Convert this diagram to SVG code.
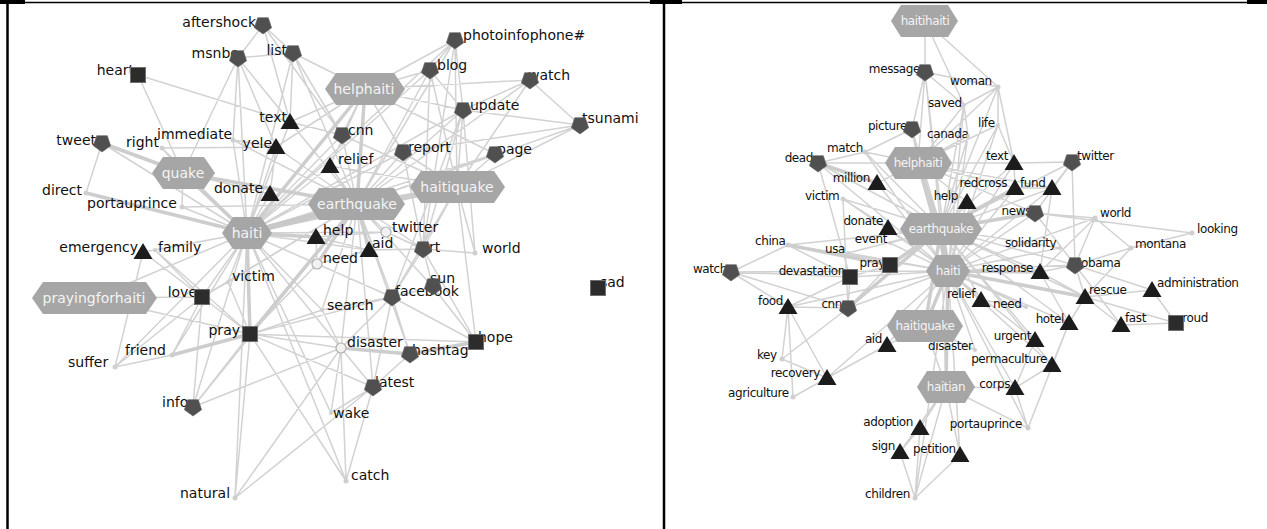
<svg xmlns="http://www.w3.org/2000/svg" xmlns:xlink="http://www.w3.org/1999/xlink" width="1267" height="529" viewBox="0 0 1267 529">
<style>
text{font-family:"DejaVu Sans","Liberation Sans",sans-serif;fill:#111}
.l{font-size:14px}
.r{font-size:12px;letter-spacing:-0.4px}
.e{text-anchor:end}
.hl{font-size:14px;fill:#f4f4f4;text-anchor:middle}
.hr{font-size:12px;letter-spacing:-0.4px;fill:#f4f4f4;text-anchor:middle}
.hex{fill:#a6a6a6}
.dot{fill:#cfcfcf}
.cir{fill:#f2f2f2;stroke:#b0b0b0;stroke-width:1.2}
.e1{fill:none;stroke:#d2d2d2;stroke-width:1.5}
.e3{fill:none;stroke:#cdcdcd;stroke-width:3.5}
.e5{fill:none;stroke:#c8c8c8;stroke-width:5.5}
</style>
<defs>
<polygon id="pt" points="0,9 -8.6,2.8 -5.3,-7.3 5.3,-7.3 8.6,2.8" fill="#505050" stroke="#5e5e5e" stroke-width="0.6"/>
<polygon id="tr" points="0,-9 -9.5,7 9.5,7" fill="#1c1c1c"/>
<rect id="sq" x="-7.5" y="-7.5" width="15" height="15" fill="#2c2c2c" stroke="#6f6f6f" stroke-width="1"/>
</defs>
<rect width="1267" height="529" fill="#fff"/>
<g id="frame" stroke="#000" fill="none">
<line x1="0" y1="2.5" x2="1267" y2="2.5" stroke-width="1.5"/>
<line x1="7.5" y1="2" x2="7.5" y2="529" stroke-width="2.5"/>
<line x1="664" y1="2" x2="664" y2="529" stroke-width="2.5"/>
<rect x="0" y="0" width="25" height="4" fill="#000" stroke="none"/>
<rect x="650" y="0" width="32" height="4" fill="#000" stroke="none"/>
<rect x="1247" y="0" width="20" height="4" fill="#000" stroke="none"/>
</g>
<g id="connectors">
<path class="e1" d="M263 25L238 58M263 25L293 53M263 25L290 122M263 25L342 135M238 58L293 53M238 58L276 147M238 58L290 122M238 58L247 233M238 58L183 173M238 58L357 204M238 58L233 140M293 53L290 122M293 53L342 135M293 53L357 204M293 53L247 233M293 53L365 89M138 75L290 122M138 75L183 173M102 143L86 193M102 143L247 233M182 207L247 233M182 207L183 173M182 207L357 204M162 148L183 173M162 148L276 147M162 148L247 233M233 140L276 147M233 140L247 233M233 140L357 204M290 122L365 89M290 122L357 204M290 122L247 233M290 122L342 135M276 147L247 233M276 147L357 204M276 147L365 89M276 147L270 194M342 135L357 204M342 135L247 233M342 135L365 89M342 135L457 187M330 166L357 204M330 166L247 233M330 166L365 89M330 166L457 187M403 152L357 204M403 152L247 233M403 152L457 187M403 152L365 89M403 152L423 249M430 70L365 89M430 70L357 204M430 70L247 233M430 70L457 187M430 70L455 40M430 70L463 110M430 70L423 249M455 40L365 89M455 40L357 204M455 40L457 187M455 40L423 249M455 40L463 110M455 40L247 233M530 80L365 89M530 80L580 125M530 80L457 187M530 80L463 110M530 80L357 204M463 110L365 89M463 110L357 204M463 110L457 187M463 110L247 233M463 110L423 249M463 110L392 297M580 125L457 187M580 125L357 204M580 125L403 152M580 125L463 110M495 154L457 187M495 154L357 204M495 154L365 89M495 154L247 233M183 173L270 194M457 187L423 249M457 187L475 253M457 187L392 297M457 187L476 342M357 204L386 232M357 204L423 249M357 204L322 310M357 204L392 297M357 204L228 282M357 204L202 297M357 204L193 407M357 204L410 354M357 204L373 387M357 204L341 348M247 233L317 264M247 233L202 297M247 233L228 282M247 233L143 252M247 233L155 250M247 233L94 298M247 233L322 310M247 233L341 348M247 233L193 407M247 233L392 297M247 233L235 498M247 233L346 481M247 233L331 413M247 233L172 355M247 233L369 250M247 233L386 232M247 233L115 367M247 233L270 194M316 237L317 264M316 237L369 250M316 237L386 232M143 252L115 367M143 252L202 297M155 250L202 297M155 250L250 334M94 298L250 334M94 298L202 297M202 297L250 334M202 297L172 355M202 297L193 407M250 334L235 498M250 334L341 348M250 334L476 342M250 334L322 310M250 334L193 407M250 334L346 481M250 334L373 387M250 334L392 297M250 334L317 264M172 355L115 367M115 367L202 297M341 348L322 310M341 348L331 413M341 348L346 481M341 348L235 498M341 348L373 387M341 348L392 297M410 354L392 297M410 354L373 387M476 342L392 297M476 342L433 287M476 342L423 249M392 297L433 287M392 297L423 249M392 297L322 310M392 297L373 387M433 287L423 249M433 287L357 204M373 387L331 413M373 387L235 498M193 407L341 348M346 481L373 387M475 253L423 249M475 253L463 110M423 249L369 250M423 249L386 232M369 250L317 264M228 282L250 334M228 282L202 297"/>
<path class="e3" d="M183 173L247 233M183 173L357 204M183 173L102 143M365 89L357 204M457 187L357 204M457 187L247 233M247 233L316 237M247 233L250 334M357 204L250 334M250 334L172 355M341 348L410 354M410 354L476 342M357 204L317 264M357 204L369 250M365 89L247 233M86 193L247 233"/>
<path class="e5" d="M247 233L357 204"/>
<path class="e1" d="M925 21L925 72M925 21L998 87M925 21L964 105M925 72L918 163M925 72L912 129M925 72L964 105M925 72L941 229M925 72L948 271M925 72L998 87M998 87L964 105M998 87L918 163M998 87L1014 163M998 87L941 229M998 87L998 125M964 105L918 163M964 105L941 229M964 105L948 271M964 105L968 136M912 129L918 163M912 129L941 229M912 129L948 271M912 129L865 152M968 136L918 163M968 136L941 229M968 136L948 271M998 125L918 163M998 125L941 229M998 125L948 271M998 125L1014 163M865 152L818 163M865 152L918 163M865 152L941 229M865 152L948 271M818 163L918 163M818 163L948 271M818 163L941 229M818 163L850 277M918 163L1014 163M918 163L877 183M918 163L1015 188M918 163L967 202M918 163L1035 213M918 163L1052 188M1014 163L1072 162M1014 163L1015 188M1014 163L941 229M1014 163L948 271M1072 162L1052 188M1072 162L1035 213M1072 162L1075 265M1072 162L941 229M877 183L941 229M877 183L948 271M1015 188L948 271M1015 188L1052 188M1052 188L941 229M1052 188L948 271M1052 188L1040 272M843 199L941 229M843 199L948 271M843 199L888 228M843 199L848 308M967 202L941 229M967 202L948 271M1035 213L948 271M1035 213L1095 218M1035 213L1192 233M1035 213L1075 265M1095 218L1131 248M1095 218L1075 265M1095 218L1040 272M1095 218L948 271M1192 233L1131 248M1131 248L1075 265M1131 248L1085 297M888 228L948 271M941 229L1040 272M941 229L981 300M941 229L1085 297M941 229L1075 265M941 229L1060 248M941 229L788 245M941 229L848 253M941 229L890 243M941 229L946 387M941 229L1069 323M941 229L1035 340M941 229L1052 365M890 243L948 271M788 245L948 271M788 245L850 277M788 245L731 272M848 253L948 271M1060 248L948 271M890 265L850 277M890 265L848 308M948 271L981 300M948 271L1026 307M948 271L1075 265M948 271L848 308M948 271L850 277M948 271L731 272M948 271L788 307M948 271L887 345M948 271L1035 340M948 271L1069 323M948 271L1052 365M948 271L1015 388M948 271L975 350M948 271L827 378M948 271L960 455M948 271L915 498M948 271L1028 428M1040 272L1075 265M1040 272L1069 323M1040 272L1085 297M1075 265L1085 297M1075 265L1152 290M1075 265L1121 325M731 272L848 308M731 272L850 277M731 272L788 307M850 277L848 308M850 277L788 307M1152 290L1085 297M1152 290L1176 323M1085 297L1121 325M1085 297L1176 323M1085 297L1069 323M981 300L1026 307M788 307L848 308M788 307L782 359M788 307L827 378M1069 323L1052 365M1069 323L1028 428M1121 325L1176 323M925 326L887 345M925 326L946 387M925 326L975 350M887 345L827 378M1035 340L1015 388M1052 365L1015 388M782 359L827 378M782 359L848 308M827 378L793 397M793 397L788 307M1015 388L946 387M1015 388L1028 428M946 387L920 428M946 387L900 452M946 387L960 455M946 387L915 498M946 387L1028 428M920 428L900 452M920 428L915 498M900 452L915 498M960 455L915 498"/>
<path class="e3" d="M918 163L941 229M918 163L948 271M948 271L925 326M941 229L925 326M818 163L877 183M941 229L890 265M948 271L1040 272M948 271L946 387M788 245L890 265M941 229L1035 213M941 229L1015 188M941 229L848 308M948 271L1085 297"/>
<path class="e5" d="M941 229L948 271"/>
</g>
<g id="nodes-left">
<g id="L-aftershock"><text class="l e" x="256" y="27">aftershock</text><use href="#pt" x="263" y="25"/></g>
<g id="L-msnbc"><text class="l e" x="238" y="58">msnbc</text><use href="#pt" x="238" y="58"/></g>
<g id="L-list"><text class="l e" x="287" y="55">list</text><use href="#pt" x="293" y="53"/></g>
<g id="L-heart"><text class="l e" x="134" y="75">heart</text><use href="#sq" x="138" y="75"/></g>
<g id="L-photoinfophone"><text class="l" x="463" y="40">photoinfophone#</text><use href="#pt" x="455" y="40"/></g>
<g id="L-blog"><text class="l" x="437" y="70">blog</text><use href="#pt" x="430" y="70"/></g>
<g id="L-watch"><text class="l" x="528" y="80">watch</text><use href="#pt" x="530" y="80"/></g>
<g id="L-update"><text class="l" x="470" y="110">update</text><use href="#pt" x="463" y="110"/></g>
<g id="L-tsunami"><text class="l" x="582" y="123">tsunami</text><use href="#pt" x="580" y="125"/></g>
<g id="L-text"><text class="l e" x="287" y="122">text</text><use href="#tr" x="290" y="122"/></g>
<g id="L-yele"><text class="l e" x="272" y="148">yele</text><use href="#tr" x="276" y="147"/></g>
<g id="L-immediate"><text class="l" x="157" y="139">immediate</text><circle class="dot" cx="233" cy="140" r="2.5"/></g>
<g id="L-right"><text class="l" x="126" y="147">right</text><circle class="dot" cx="162" cy="148" r="2.5"/></g>
<g id="L-tweet"><text class="l e" x="96" y="145">tweet</text><use href="#pt" x="102" y="143"/></g>
<g id="L-cnn"><text class="l" x="348" y="135">cnn</text><use href="#pt" x="342" y="135"/></g>
<g id="L-relief"><text class="l" x="338" y="164">relief</text><use href="#tr" x="330" y="166"/></g>
<g id="L-report"><text class="l" x="408" y="152">report</text><use href="#pt" x="403" y="152"/></g>
<g id="L-page"><text class="l" x="497" y="154">page</text><use href="#pt" x="495" y="154"/></g>
<g id="L-donate"><text class="l e" x="263" y="193">donate</text><use href="#tr" x="270" y="194"/></g>
<g id="L-direct"><text class="l" x="42" y="195">direct</text><circle class="dot" cx="86" cy="193" r="2.5"/></g>
<g id="L-portauprince"><text class="l" x="87" y="208">portauprince</text><circle class="dot" cx="182" cy="207" r="2.5"/></g>
<g id="L-emergency"><text class="l e" x="138" y="252">emergency</text><use href="#tr" x="143" y="252"/></g>
<g id="L-family"><text class="l" x="158" y="252">family</text><circle class="dot" cx="155" cy="250" r="2"/></g>
<g id="L-help"><text class="l" x="323" y="235">help</text><use href="#tr" x="316" y="237"/></g>
<g id="L-twitter"><text class="l" x="392" y="232">twitter</text><circle class="cir" cx="386" cy="232" r="5"/></g>
<g id="L-aid"><text class="l" x="372" y="248">aid</text><use href="#tr" x="369" y="250"/></g>
<g id="L-rt"><text class="l" x="429" y="252">rt</text><use href="#pt" x="423" y="249"/></g>
<g id="L-world"><text class="l" x="482" y="253">world</text><circle class="dot" cx="475" cy="253" r="2.5"/></g>
<g id="L-need"><text class="l" x="323" y="263">need</text><circle class="cir" cx="317" cy="264" r="5"/></g>
<g id="L-victim"><text class="l" x="232" y="281">victim</text><circle class="dot" cx="228" cy="282" r="2"/></g>
<g id="L-love"><text class="l e" x="197" y="297">love</text><use href="#sq" x="202" y="297"/></g>
<g id="L-search"><text class="l" x="327" y="310">search</text><circle class="dot" cx="322" cy="310" r="2"/></g>
<g id="L-facebook"><text class="l" x="395" y="296">facebook</text><use href="#pt" x="392" y="297"/></g>
<g id="L-sun"><text class="l" x="430" y="283">sun</text><use href="#pt" x="433" y="286"/></g>
<g id="L-sad"><text class="l" x="600" y="287">sad</text><use href="#sq" x="598" y="288"/></g>
<g id="L-pray"><text class="l e" x="240" y="335">pray</text><use href="#sq" x="250" y="334"/></g>
<g id="L-friend"><text class="l" x="125" y="355">friend</text><circle class="dot" cx="172" cy="355" r="2.5"/></g>
<g id="L-suffer"><text class="l" x="68" y="367">suffer</text><circle class="dot" cx="115" cy="367" r="2.5"/></g>
<g id="L-disaster"><text class="l" x="347" y="347">disaster</text><circle class="cir" cx="341" cy="348" r="5"/></g>
<g id="L-hope"><text class="l" x="478" y="342">hope</text><use href="#sq" x="476" y="342"/></g>
<g id="L-hashtag"><text class="l" x="412" y="355">hashtag</text><use href="#pt" x="410" y="354"/></g>
<g id="L-latest"><text class="l" x="375" y="387">latest</text><use href="#pt" x="373" y="387"/></g>
<g id="L-info"><text class="l" x="162" y="407">info</text><use href="#pt" x="193" y="407"/></g>
<g id="L-wake"><text class="l" x="333" y="418">wake</text><circle class="dot" cx="331" cy="413" r="2"/></g>
<g id="L-catch"><text class="l" x="351" y="480">catch</text><circle class="dot" cx="346" cy="481" r="2.5"/></g>
<g id="L-natural"><text class="l" x="180" y="498">natural</text><circle class="dot" cx="235" cy="498" r="2.5"/></g>
<g id="L-helphaiti"><polygon class="hex" points="325,89 336,73 394,73 405,89 394,105 336,105"/><text class="hl" x="364" y="94">helphaiti</text></g>
<g id="L-haitiquake"><polygon class="hex" points="410,187 421,171 494,171 505,187 494,203 421,203"/><text class="hl" x="457" y="192">haitiquake</text></g>
<g id="L-earthquake"><polygon class="hex" points="308,204 319,188 394,188 405,204 394,220 319,220"/><text class="hl" x="357" y="209">earthquake</text></g>
<g id="L-quake"><polygon class="hex" points="152,173 163,157 204,157 215,173 204,189 163,189"/><text class="hl" x="183" y="178">quake</text></g>
<g id="L-haiti"><polygon class="hex" points="222,233 233,217 261,217 272,233 261,249 233,249"/><text class="hl" x="247" y="238">haiti</text></g>
<g id="L-prayingforhaiti"><polygon class="hex" points="32,298 43,282 146,282 157,298 146,314 43,314"/><text class="hl" x="94" y="303">prayingforhaiti</text></g>
</g>
<g id="nodes-right">
<g id="R-message"><text class="r e" x="920" y="73">message</text><use href="#pt" x="925" y="72"/></g>
<g id="R-woman"><text class="r" x="950" y="85">woman</text><circle class="dot" cx="998" cy="87" r="2.5"/></g>
<g id="R-saved"><text class="r" x="928" y="107">saved</text><circle class="dot" cx="964" cy="105" r="2"/></g>
<g id="R-picture"><text class="r e" x="907" y="130">picture</text><use href="#pt" x="912" y="129"/></g>
<g id="R-canada"><text class="r" x="927" y="138">canada</text><circle class="dot" cx="968" cy="136" r="2"/></g>
<g id="R-life"><text class="r" x="978" y="127">life</text><circle class="dot" cx="998" cy="125" r="2"/></g>
<g id="R-match"><text class="r" x="827" y="152">match</text><circle class="dot" cx="865" cy="152" r="2.5"/></g>
<g id="R-dead"><text class="r e" x="813" y="162">dead</text><use href="#pt" x="818" y="163"/></g>
<g id="R-million"><text class="r e" x="870" y="182">million</text><use href="#tr" x="877" y="183"/></g>
<g id="R-victim"><text class="r" x="805" y="200">victim</text><circle class="dot" cx="843" cy="199" r="2.5"/></g>
<g id="R-help"><text class="r e" x="958" y="200">help</text><use href="#tr" x="967" y="202"/></g>
<g id="R-donate"><text class="r e" x="883" y="225">donate</text><use href="#tr" x="888" y="228"/></g>
<g id="R-event"><text class="r e" x="887" y="243">event</text><circle class="dot" cx="890" cy="243" r="2"/></g>
<g id="R-china"><text class="r" x="755" y="245">china</text><circle class="dot" cx="788" cy="245" r="2.5"/></g>
<g id="R-usa"><text class="r" x="825" y="253">usa</text><circle class="dot" cx="848" cy="253" r="2"/></g>
<g id="R-pray"><text class="r e" x="885" y="267">pray</text><use href="#sq" x="890" y="265"/></g>
<g id="R-text"><text class="r e" x="1008" y="160">text</text><use href="#tr" x="1014" y="163"/></g>
<g id="R-twitter"><text class="r" x="1077" y="160">twitter</text><use href="#pt" x="1072" y="162"/></g>
<g id="R-redcross"><text class="r e" x="1007" y="187">redcross</text><use href="#tr" x="1015" y="188"/></g>
<g id="R-fund"><text class="r" x="1020" y="187">fund</text><use href="#tr" x="1052" y="188"/></g>
<g id="R-news"><text class="r e" x="1031" y="215">news</text><use href="#pt" x="1035" y="213"/></g>
<g id="R-world"><text class="r" x="1100" y="217">world</text><circle class="dot" cx="1095" cy="218" r="2.5"/></g>
<g id="R-looking"><text class="r" x="1197" y="233">looking</text><circle class="dot" cx="1192" cy="233" r="2.5"/></g>
<g id="R-solidarity"><text class="r" x="1005" y="247">solidarity</text><circle class="dot" cx="1060" cy="248" r="2"/></g>
<g id="R-montana"><text class="r" x="1135" y="248">montana</text><circle class="dot" cx="1131" cy="248" r="2.5"/></g>
<g id="R-obama"><text class="r" x="1081" y="267">obama</text><use href="#pt" x="1075" y="265"/></g>
<g id="R-response"><text class="r e" x="1033" y="272">response</text><use href="#tr" x="1040" y="272"/></g>
<g id="R-relief"><text class="r e" x="975" y="298">relief</text><use href="#tr" x="981" y="300"/></g>
<g id="R-need"><text class="r" x="993" y="308">need</text><circle class="dot" cx="1026" cy="307" r="2"/></g>
<g id="R-hotel"><text class="r e" x="1064" y="323">hotel</text><use href="#tr" x="1069" y="323"/></g>
<g id="R-urgent"><text class="r e" x="1031" y="340">urgent</text><use href="#tr" x="1035" y="340"/></g>
<g id="R-disaster"><text class="r" x="928" y="350">disaster</text><circle class="dot" cx="975" cy="350" r="2"/></g>
<g id="R-permaculture"><text class="r e" x="1047" y="363">permaculture</text><use href="#tr" x="1052" y="365"/></g>
<g id="R-corps"><text class="r e" x="1010" y="388">corps</text><use href="#tr" x="1015" y="388"/></g>
<g id="R-aid"><text class="r e" x="882" y="343">aid</text><use href="#tr" x="887" y="345"/></g>
<g id="R-rescue"><text class="r" x="1089" y="294">rescue</text><use href="#tr" x="1085" y="297"/></g>
<g id="R-administration"><text class="r" x="1157" y="287">administration</text><use href="#tr" x="1152" y="290"/></g>
<g id="R-fast"><text class="r" x="1125" y="322">fast</text><use href="#tr" x="1121" y="325"/></g>
<g id="R-proud"><text class="r" x="1175" y="322">proud</text><use href="#sq" x="1176" y="323"/></g>
<g id="R-portauprince"><text class="r e" x="1022" y="428">portauprince</text><circle class="dot" cx="1028" cy="428" r="2.5"/></g>
<g id="R-watch"><text class="r e" x="727" y="273">watch</text><use href="#pt" x="731" y="272"/></g>
<g id="R-devastation"><text class="r e" x="845" y="275">devastation</text><use href="#sq" x="850" y="277"/></g>
<g id="R-food"><text class="r e" x="783" y="305">food</text><use href="#tr" x="788" y="307"/></g>
<g id="R-cnn"><text class="r e" x="842" y="308">cnn</text><use href="#pt" x="848" y="308"/></g>
<g id="R-key"><text class="r" x="757" y="359">key</text><circle class="dot" cx="782" cy="359" r="2.5"/></g>
<g id="R-recovery"><text class="r e" x="820" y="377">recovery</text><use href="#tr" x="827" y="378"/></g>
<g id="R-agriculture"><text class="r" x="728" y="397">agriculture</text><circle class="dot" cx="793" cy="397" r="2.5"/></g>
<g id="R-adoption"><text class="r e" x="913" y="426">adoption</text><use href="#tr" x="920" y="428"/></g>
<g id="R-sign"><text class="r e" x="895" y="450">sign</text><use href="#tr" x="900" y="452"/></g>
<g id="R-petition"><text class="r" x="913" y="453">petition</text><use href="#tr" x="960" y="455"/></g>
<g id="R-children"><text class="r" x="865" y="498">children</text><circle class="dot" cx="915" cy="498" r="2.5"/></g>
<g id="R-haitihaiti"><polygon class="hex" points="891,21 901,5 948,5 958,21 948,37 901,37"/><text class="hr" x="925" y="25">haitihaiti</text></g>
<g id="R-helphaiti"><polygon class="hex" points="885,163 895,147 942,147 952,163 942,179 895,179"/><text class="hr" x="918" y="167">helphaiti</text></g>
<g id="R-earthquake"><polygon class="hex" points="900,229 910,213 972,213 982,229 972,245 910,245"/><text class="hr" x="941" y="233">earthquake</text></g>
<g id="R-haiti"><polygon class="hex" points="926,271 936,255 960,255 970,271 960,287 936,287"/><text class="hr" x="948" y="275">haiti</text></g>
<g id="R-haitiquake"><polygon class="hex" points="887,326 897,310 953,310 963,326 953,342 897,342"/><text class="hr" x="925" y="330">haitiquake</text></g>
<g id="R-haitian"><polygon class="hex" points="917,387 927,371 965,371 975,387 965,403 927,403"/><text class="hr" x="946" y="391">haitian</text></g>
</g>
</svg>
